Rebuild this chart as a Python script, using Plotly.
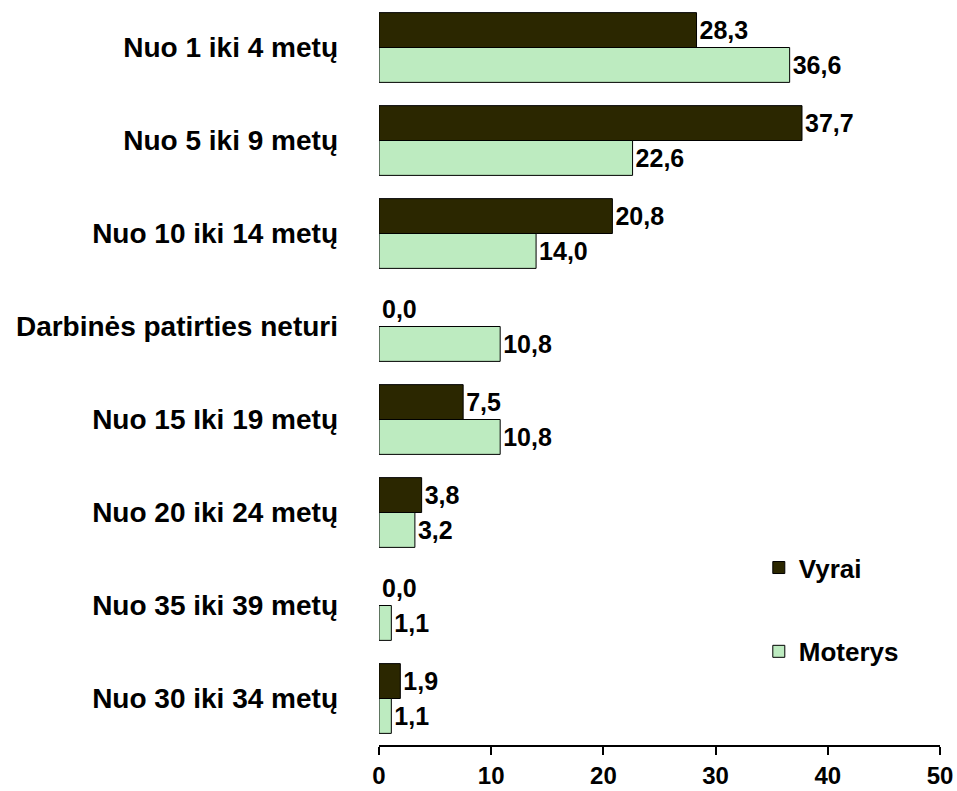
import plotly.graph_objects as go

categories = ["Nuo 1 iki 4 metų", "Nuo 5 iki 9 metų", "Nuo 10 iki 14 metų",
              "Darbinės patirties neturi", "Nuo 15 Iki 19 metų", "Nuo 20 iki 24 metų",
              "Nuo 35 iki 39 metų", "Nuo 30 iki 34 metų"]
vyrai = [28.3, 37.7, 20.8, 0.0, 7.5, 3.8, 0.0, 1.9]
moterys = [36.6, 22.6, 14.0, 10.8, 10.8, 3.2, 1.1, 1.1]
x_ticks = [0, 10, 20, 30, 40, 50]


def lt_fmt(vals):
    # lithuanian decimal comma
    return [f"{v:.1f}".replace(".", ",") for v in vals]


def outline(vals):
    # no border on empty bars
    return [1 if v > 0 else 0 for v in vals]


FONT = "Liberation Sans, Arial, sans-serif"

fig = go.Figure()
fig.add_trace(go.Bar(
    y=categories, x=vyrai, name="Vyrai", orientation="h",
    marker=dict(color="#2b2700", line=dict(color="black", width=outline(vyrai))),
    text=lt_fmt(vyrai), textposition="outside", constraintext="none",
    cliponaxis=False, legendgroup="v",
    textfont=dict(family=FONT, size=25, color="black", weight="bold"),
))
fig.add_trace(go.Bar(
    y=categories, x=moterys, name="Moterys", orientation="h",
    marker=dict(color="#bdebc0", line=dict(color="black", width=outline(moterys))),
    text=lt_fmt(moterys), textposition="outside", constraintext="none",
    cliponaxis=False, legendgroup="m",
    textfont=dict(family=FONT, size=25, color="black", weight="bold"),
))

fig.update_layout(
    width=957, height=791,
    margin=dict(l=379, r=17, t=1, b=46, autoexpand=False),
    plot_bgcolor="white", paper_bgcolor="white",
    barmode="group", bargap=0.25, bargroupgap=0,
    font=dict(family=FONT, size=25, color="black", weight="bold"),
    legend=dict(x=0.677, y=0.27, xanchor="left", yanchor="top",
                tracegroupgap=47, font=dict(size=26, weight="bold"),
                bgcolor="rgba(0,0,0,0)"),
    xaxis=dict(range=[0, 50], tickvals=x_ticks, ticks="outside", ticklen=8,
               tickwidth=2, tickcolor="black", showline=True, linecolor="black",
               linewidth=2, showgrid=False, zeroline=False, automargin=False,
               tickfont=dict(size=24, weight="bold")),
    yaxis=dict(autorange="reversed", showgrid=False, showline=False,
               ticks="", ticklabelstandoff=40, automargin=False,
               tickfont=dict(size=28, weight="bold")),
)

# page body has a default 8px margin, drop it
fig.write_html("out.html", config={"displayModeBar": False},
               post_script="document.body.style.margin='0';")
